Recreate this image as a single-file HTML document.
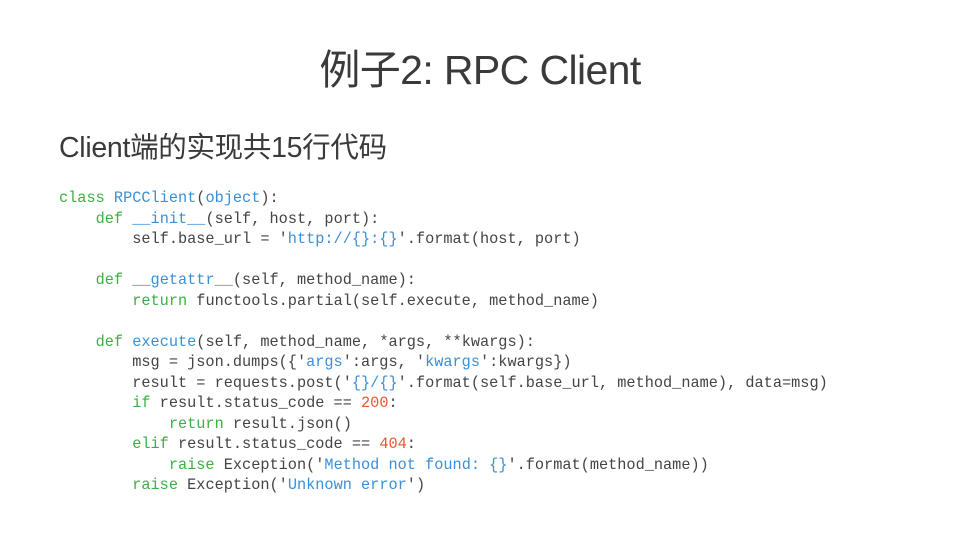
<!DOCTYPE html>
<html><head><meta charset="utf-8"><style>
body{margin:0;width:960px;height:540px;background:#fff;position:relative;overflow:hidden}
.t{position:absolute;left:0;width:960px;text-align:center;top:36px;font:41px "Liberation Sans","Noto Sans CJK SC",sans-serif;color:#3a3a3a;letter-spacing:-0.6px}
.s{position:absolute;left:59px;top:125px;font:28.5px "Liberation Sans","Noto Sans CJK SC",sans-serif;color:#3a3a3a;letter-spacing:-0.3px}
pre{position:absolute;left:59px;top:188px;margin:0;font:15.25px/20.5px "Liberation Mono",monospace;color:#444}
.k{color:#3cb043}.f{color:#3a8fd8}.q{color:#3a8fd8}.n{color:#e8552e}
</style></head><body>
<div class="t">例子2: RPC Client</div>
<div class="s">Client端的实现共15行代码</div>
<pre><span class="k">class</span> <span class="f">RPCClient</span>(<span class="f">object</span>):
    <span class="k">def</span> <span class="f">__init__</span>(self, host, port):
        self.base_url = '<span class="q">http://{}:{}</span>'.format(host, port)

    <span class="k">def</span> <span class="f">__getattr__</span>(self, method_name):
        <span class="k">return</span> functools.partial(self.execute, method_name)

    <span class="k">def</span> <span class="f">execute</span>(self, method_name, *args, **kwargs):
        msg = json.dumps({'<span class="q">args</span>':args, '<span class="q">kwargs</span>':kwargs})
        result = requests.post('<span class="q">{}/{}</span>'.format(self.base_url, method_name), data=msg)
        <span class="k">if</span> result.status_code == <span class="n">200</span>:
            <span class="k">return</span> result.json()
        <span class="k">elif</span> result.status_code == <span class="n">404</span>:
            <span class="k">raise</span> Exception('<span class="q">Method not found: {}</span>'.format(method_name))
        <span class="k">raise</span> Exception('<span class="q">Unknown error</span>')</pre>
</body></html>
